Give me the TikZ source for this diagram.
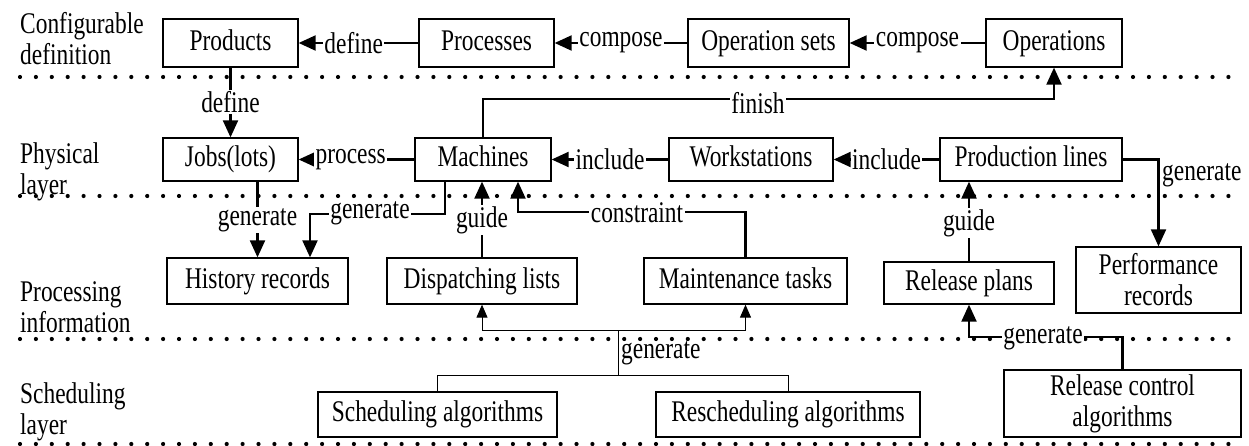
\documentclass[tikz,border=0pt]{standalone}
\usepackage{fontspec}
\setmainfont[FakeStretch=0.78]{Liberation Serif}
\usetikzlibrary{arrows.meta}
\begin{document}
\begin{tikzpicture}[x=1pt,y=-1pt,
  font=\fontsize{30}{31}\selectfont,
  box/.style={draw, line width=1.3pt, inner sep=0pt, align=center},
  sbox/.style={box, text height=20.5pt, text depth=5.6pt},
  arr/.style={line width=2.1pt, -{Triangle[length=17pt,width=15pt]}},
  tarr/.style={line width=1pt, -{Triangle[length=13pt,width=11pt]}},
  plain/.style={line width=2pt},
  tplain/.style={line width=1pt},
  lbl/.style={fill=white, inner sep=1.5pt},
  layer/.style={anchor=north west, align=left, inner sep=0pt},
  dotline/.style={line width=4.2pt, line cap=round, dash pattern=on 0pt off 15.9pt}]
\useasboundingbox (0,0) rectangle (1249,446);

% dotted separators
\draw[dotline] (20,77) -- (1232,77);
\draw[dotline] (20,196) -- (1232,196);
\draw[dotline] (20,339) -- (1232,339);
\draw[dotline] (20,444) -- (1232,444);

% layer labels
\node[layer] (L1) at (20,12.5) {Configurable\\definition};
\node[layer] (L2) at (20,142.5) {Physical\\layer};
\node[layer] (L3) at (20,281.5) {Processing\\information};
\node[layer] (L4) at (20,382.5) {Scheduling\\layer};

% row 1
\node[sbox, minimum width=135pt, minimum height=48pt] (prod) at (230.5,43) {Products};
\node[sbox, minimum width=135pt, minimum height=48pt] (procs) at (486.5,43) {Processes};
\node[sbox, minimum width=161pt, minimum height=48pt] (opset) at (768.5,43) {Operation sets};
\node[sbox, minimum width=136pt, minimum height=48pt] (ops) at (1054,43) {Operations};

% row 2
\node[sbox, minimum width=135pt, minimum height=43pt] (jobs) at (230.5,159.5) {Jobs(lots)};
\node[sbox, minimum width=136pt, minimum height=43pt] (mach) at (483,159.5) {Machines};
\node[sbox, minimum width=164pt, minimum height=43pt] (ws) at (751,159.5) {Workstations};
\node[sbox, minimum width=182pt, minimum height=43pt] (pl) at (1031,159.5) {Production lines};

% row 3
\node[sbox, minimum width=181pt, minimum height=46pt] (hist) at (257.5,281) {History records};
\node[sbox, minimum width=190pt, minimum height=46pt] (disp) at (482,281) {Dispatching lists};
\node[sbox, minimum width=203pt, minimum height=46pt] (maint) at (745.5,281) {Maintenance tasks};
\node[sbox, minimum width=170pt, minimum height=42pt] (relp) at (969,283) {Release plans};
\node[box, minimum width=165pt, minimum height=66pt] (perf) at (1158.5,280) {Performance\\records};

% row 4
\node[sbox, minimum width=239pt, minimum height=45pt] (sched) at (437.5,414.5) {Scheduling algorithms};
\node[sbox, minimum width=264pt, minimum height=45pt] (resch) at (788,414.5) {Rescheduling algorithms};
\node[box, minimum width=237pt, minimum height=67pt] (relc) at (1122.5,403.5) {Release control\\algorithms};

% row 1 connectors
\draw[arr] (procs.west) -- node[lbl, pos=0.54]{define} (prod.east);
\draw[arr] (opset.west) -- node[lbl]{compose} (procs.east);
\draw[arr] (ops.west) -- node[lbl]{compose} (opset.east);

% row 2 connectors
\draw[arr] (mach.west) -- node[lbl, pos=0.55]{process} (jobs.east);
\draw[arr] (ws.west) -- node[lbl]{include} (mach.east);
\draw[arr] (pl.west) -- node[lbl]{include} (ws.east);

% vertical connectors
\draw[arr] (prod.south) -- (jobs.north);
\node[lbl] (ldef) at (230.5,102) {define};

\draw[arr] (mach.north) -- ++(0,-38) -| (ops.south);
\node[lbl] (lfin) at (758,103) {finish};

\draw[arr] ([xshift=27pt]jobs.south) -- (hist.north);
\node[lbl] (lgen1) at (257.5,220) {generate};

\draw[arr] ([xshift=-38pt]mach.south) -- ++(0,32) -| ([xshift=52.5pt]hist.north);
\node[lbl] (lgen2) at (370,213) {generate};

\draw[arr] (disp.north) -- (disp.north |- mach.south);
\node[lbl] (lguide1) at (482,220) {guide};

\draw[arr] (maint.north) -- ++(0,-45) -| ([xshift=35pt]mach.south);
\node[lbl] (lcons) at (637,213) {constraint};

\draw[arr] (relp.north) -- (relp.north |- pl.south);
\node[lbl] (lguide2) at (969,223) {guide};

\draw[arr] (pl.east) -| (perf.north);
\node[anchor=west, inner sep=1pt] (lgen3) at (1161,175) {generate};

% scheduling layer connectors
\coordinate (g1) at (618,330);
\coordinate (g2) at (618,375);
\draw[tarr] (g1) -| (disp.south);
\draw[tarr] (g1) -| (maint.south);
\draw[tplain] (g1) -- (g2);
\draw[tplain] (g2) -| (sched.north);
\draw[tplain] (g2) -| (resch.north);
\node[anchor=west, inner sep=1pt] (lgen4) at (620,353) {generate};

\draw[arr] (relc.north) -- ++(0,-32) -| (relp.south);
\node[lbl] (lgen5) at (1043,338) {generate};
\end{tikzpicture}
\end{document}
